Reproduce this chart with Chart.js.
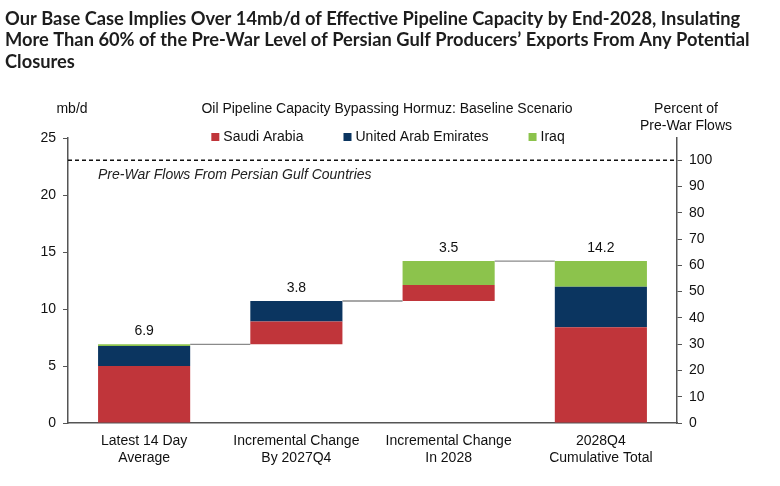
<!DOCTYPE html>
<html>
<head>
<meta charset="utf-8">
<script src="https://cdn.jsdelivr.net/npm/chart.js@4.4.1/dist/chart.umd.min.js"></script>
<style>
  html, body { margin: 0; padding: 0; background: #fff; }
  #wrap { width: 780px; height: 486px; }
</style>
</head>
<body>
<div id="wrap"><canvas id="myChart" width="780" height="486"></canvas></div>
<script>
// chart values
const categories = [
  ["Latest 14 Day", "Average"],
  ["Incremental Change", "By 2027Q4"],
  ["Incremental Change", "In 2028"],
  ["2028Q4", "Cumulative Total"],
];
const offset = [0, 6.9, 10.7, 0]; // waterfall floor for each step
const saudi = [5.0, 2.0, 1.4, 8.4];
const uae = [1.75, 1.8, 0, 3.55];
const iraq = [0.15, 0, 2.1, 2.25];
const barLabels = ["6.9", "3.8", "3.5", "14.2"];
const preWarFlows = 23.05; // mb/d, = 100% on right axis
const leftMax = 25;
const rightTicks = [0, 10, 20, 30, 40, 50, 60, 70, 80, 90, 100];

const titleLines = [
  "Our Base Case Implies Over 14mb/d of Effective Pipeline Capacity by End-2028, Insulating",
  "More Than 60% of the Pre-War Level of Persian Gulf Producers\u2019 Exports From Any Potential",
  "Closures",
];
const subtitle = "Oil Pipeline Capacity Bypassing Hormuz: Baseline Scenario";
const preWarLabel = "Pre-War Flows From Persian Gulf Countries";

const RED = "#c0353a";
const NAVY = "#0b3560";
const GREEN = "#8cc34c";
const AXIS = "#555";
const FONT = "'Liberation Sans', Arial, sans-serif";

const ctx = document.getElementById("myChart");

const overlay = {
  id: "overlay",
  beforeDatasetsDraw(chart) {
    const c = chart.ctx;
    const y = chart.scales.y;
    const area = chart.chartArea;
    // dashed pre-war line
    const py = y.getPixelForValue(preWarFlows);
    c.save();
    c.strokeStyle = "#111";
    c.lineWidth = 1.3;
    c.setLineDash([4, 3]);
    c.beginPath();
    c.moveTo(area.left, py);
    c.lineTo(area.right, py);
    c.stroke();
    c.setLineDash([]);
    c.font = "italic 14px " + FONT;
    c.fillStyle = "#222";
    c.textAlign = "left";
    c.textBaseline = "middle";
    c.fillText(preWarLabel, area.left + 30, py + 15);
    c.restore();
  },
  afterDatasetsDraw(chart) {
    const c = chart.ctx;
    const y = chart.scales.y;
    const top = chart.getDatasetMeta(3).data;
    c.save();
    // connectors between steps
    c.strokeStyle = "#8a8a8a";
    c.lineWidth = 1.3;
    for (let i = 0; i < top.length - 1; i++) {
      const v = offset[i] + saudi[i] + uae[i] + iraq[i];
      const yy = y.getPixelForValue(v);
      c.beginPath();
      c.moveTo(top[i].x + top[i].width / 2, yy);
      c.lineTo(top[i + 1].x - top[i + 1].width / 2, yy);
      c.stroke();
    }
    // value labels
    c.font = "14px " + FONT;
    c.fillStyle = "#111";
    c.textAlign = "center";
    c.textBaseline = "middle";
    top.forEach((el, i) => {
      const v = offset[i] + saudi[i] + uae[i] + iraq[i];
      c.fillText(barLabels[i], el.x, y.getPixelForValue(v) - 13);
    });
    c.restore();
  },
  afterDraw(chart) {
    const c = chart.ctx;
    const area = chart.chartArea;
    const W = chart.width;
    c.save();
    // main title
    c.font = "bold 18.3px Lato, 'Open Sans', sans-serif";
    c.fillStyle = "#1d1d1d";
    c.textAlign = "left";
    c.textBaseline = "middle";
    titleLines.forEach((t, i) => c.fillText(t, 5, 19 + i * 21.5));
    // header row
    c.font = "14px " + FONT;
    c.fillStyle = "#111";
    c.textAlign = "center";
    c.fillText("mb/d", 72, 109);
    c.fillText(subtitle, W / 2 - 3, 109);
    c.fillText("Percent of", area.right + 9, 109);
    c.fillText("Pre-War Flows", area.right + 9, 126);
    // legend
    const items = [
      ["Saudi Arabia", RED],
      ["United Arab Emirates", NAVY],
      ["Iraq", GREEN],
    ];
    const box = 8, gapText = 4, gapItem = 40;
    let total = 0;
    items.forEach((it, i) => {
      total += box + gapText + c.measureText(it[0]).width + (i < items.length - 1 ? gapItem : 0);
    });
    let x = W / 2 - 2 - total / 2;
    const ly = 137;
    c.textAlign = "left";
    items.forEach((it) => {
      c.fillStyle = it[1];
      c.fillRect(x, ly - box / 2, box, box);
      x += box + gapText;
      c.fillStyle = "#111";
      c.fillText(it[0], x, ly);
      x += c.measureText(it[0]).width + gapItem;
    });
    c.restore();
  },
};

new Chart(ctx, {
  type: "bar",
  data: {
    labels: categories,
    datasets: [
      { label: "base", data: offset, backgroundColor: "rgba(0,0,0,0)" },
      { label: "Saudi Arabia", data: saudi, backgroundColor: RED },
      { label: "United Arab Emirates", data: uae, backgroundColor: NAVY },
      { label: "Iraq", data: iraq, backgroundColor: GREEN },
    ],
  },
  options: {
    responsive: false,
    animation: false,
    layout: { padding: { top: 138, left: 0, right: 0, bottom: 0 } },
    datasets: { bar: { categoryPercentage: 1, barPercentage: 0.605, borderWidth: 0 } },
    plugins: {
      legend: { display: false },
      title: { display: false },
      tooltip: { enabled: false },
    },
    scales: {
      x: {
        stacked: true,
        grid: { display: false, drawTicks: false },
        border: { display: true, color: AXIS, width: 1.5 },
        ticks: { color: "#111", font: { family: FONT, size: 14 }, padding: 10, maxRotation: 0 },
        afterFit: (s) => { s.height = 63; },
      },
      y: {
        stacked: true,
        min: 0,
        max: leftMax,
        grid: { display: true, drawOnChartArea: false, drawTicks: true, tickLength: 5, color: AXIS },
        border: { display: true, color: AXIS, width: 1.5 },
        ticks: { stepSize: 5, color: "#111", font: { family: FONT, size: 14 }, padding: 7 },
        afterFit: (s) => { s.width = 68; },
      },
      y2: {
        position: "right",
        min: 0,
        max: (leftMax / preWarFlows) * 100,
        grid: { display: true, drawOnChartArea: false, drawTicks: true, tickLength: 5, color: AXIS },
        border: { display: true, color: AXIS, width: 1.5 },
        ticks: { color: "#111", font: { family: FONT, size: 14 }, padding: 7 },
        afterBuildTicks: (s) => { s.ticks = rightTicks.map((v) => ({ value: v })); },
        afterFit: (s) => { s.width = 103; },
      },
    },
  },
  plugins: [overlay],
});
</script>
</body>
</html>
